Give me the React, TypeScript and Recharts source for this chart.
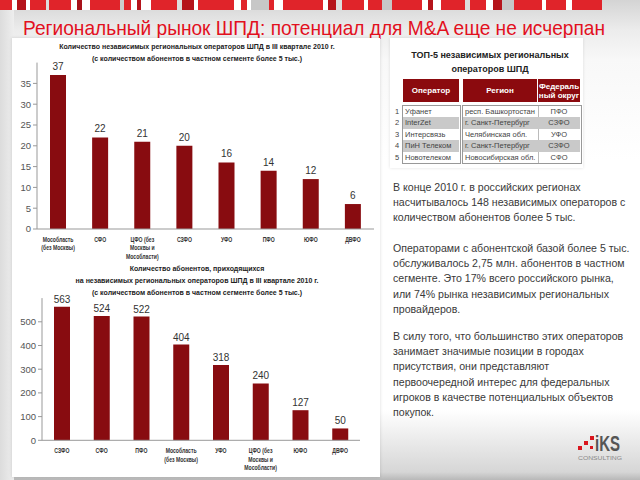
import { BarChart, Bar, XAxis, YAxis, LabelList } from 'recharts';

// top chart: operators per district
const topCategories = ['Мособласть\n(без Москвы)', 'СФО', 'ЦФО (без\nМосквы и\nМособласти)', 'СЗФО', 'УФО', 'ПФО', 'ЮФО', 'ДВФО'];
const topValues = [37, 22, 21, 20, 16, 14, 12, 6];
const topTicks = [0, 5, 10, 15, 20, 25, 30, 35];

// bottom chart: subscribers per district
const bottomCategories = ['СЗФО', 'СФО', 'ПФО', 'Мособласть\n(без Москвы)', 'УФО', 'ЦФО (без\nМосквы и\nМособласти)', 'ЮФО', 'ДВФО'];
const bottomValues = [563, 524, 522, 404, 318, 240, 127, 50];
const bottomTicks = [0, 100, 200, 300, 400, 500];

// top-5 table
const operators = ['Уфанет', 'InterZet', 'Интерсвязь', 'ПиН Телеком', 'Новотелеком'];
const regions = ['респ. Башкортостан', 'г. Санкт-Петербург', 'Челябинская обл.', 'г. Санкт-Петербург', 'Новосибирская обл.'];
const districts = ['ПФО', 'СЗФО', 'УФО', 'СЗФО', 'СФО'];

const paragraphs = [
  ['В конце 2010 г. в российских регионах', 'насчитывалось 148 независимых операторов с', 'количеством абонентов более 5 тыс.'],
  ['Операторами с абонентской базой более 5 тыс.', 'обслуживалось 2,75 млн. абонентов в частном', 'сегменте. Это 17% всего российского рынка,', 'или 74% рынка независимых региональных', 'провайдеров.'],
  ['В силу того, что большинство этих операторов', 'занимает значимые позиции в городах', 'присутствия, они представляют', 'первоочередной интерес для федеральных', 'игроков в качестве потенциальных объектов', 'покупок.'],
];

const stripe: [number, string][] = [
  [12, '#e0242a'], [5, '#fff'], [9, '#b5141b'], [4, '#fff'], [16, '#e0242a'], [3, '#ddd'], [22, '#e0242a'], [6, '#fff'],
  [5, '#a8121a'], [8, '#fff'], [30, '#e0242a'], [4, '#ccc'], [7, '#e0242a'], [6, '#fff'], [4, '#b5141b'], [10, '#fff'],
  [26, '#e0242a'], [5, '#ddd'], [12, '#b5141b'], [4, '#fff'], [36, '#e0242a'], [7, '#fff'], [6, '#e0242a'], [4, '#fff'],
  [18, '#c7c7c7'], [5, '#e0242a'], [9, '#fff'], [40, '#e0242a'], [5, '#fff'], [8, '#b5141b'], [6, '#ddd'], [22, '#e0242a'],
  [4, '#fff'], [14, '#e0242a'], [10, '#c7c7c7'], [30, '#e0242a'], [6, '#fff'], [5, '#b5141b'], [8, '#fff'], [24, '#e0242a'],
  [5, '#ddd'], [16, '#e0242a'], [7, '#fff'], [9, '#b5141b'], [12, '#c7c7c7'], [28, '#e0242a'], [4, '#fff'], [20, '#e0242a'],
  [6, '#fff'], [30, '#e0242a'],
];

const topData = topCategories.map((name, i) => ({ name, value: topValues[i] }));
const bottomData = bottomCategories.map((name, i) => ({ name, value: bottomValues[i] }));

const BAR = '#880c10';
const SANS = "'Liberation Sans', Arial, sans-serif";

function CategoryTick({ x, y, payload }: any) {
  const lines = String(payload.value).split('\n');
  return (
    <text transform={`translate(${x},${y + 5}) scale(0.8,1)`} textAnchor="middle" fontSize={6.4}
      fontWeight="bold" fill="#333" fontFamily={SANS}>
      {lines.map((l, i) => (
        <tspan key={i} x={0} dy={i === 0 ? 0 : 8.5}>{l}</tspan>
      ))}
    </text>
  );
}

const chartTitle: React.CSSProperties = {
  position: 'absolute', left: 12, width: 370, textAlign: 'center',
  fontFamily: SANS, fontSize: 7, fontWeight: 'bold', color: '#222', lineHeight: '12px', whiteSpace: 'nowrap',
};

export default function App() {
  return (
    <div style={{
      position: 'relative', width: 640, height: 480, overflow: 'hidden', fontFamily: SANS,
      background: 'linear-gradient(to bottom, #d4d4d4 0px, #ececec 30px, #f8f8f8 60px, #ffffff 160px, #ffffff 410px, #d6d6d6 472px, #b8b8b8 480px)',
    }}>
      <style>{'body{margin:0}'}</style>

      <div style={{ position: 'absolute', left: 0, top: 10, width: 14, height: 470, background: 'linear-gradient(to right, #dcdcdc, #eeeeee)' }} />

      {/* stripe band */}
      <div style={{ position: 'absolute', left: 0, top: 0, width: 640, height: 10, display: 'flex' }}>
        {stripe.map(([w, c], i) => (
          <div key={i} style={{ width: w, height: 10, background: c, flexShrink: 0 }} />
        ))}
      </div>

      <svg width={640} height={50} style={{ position: 'absolute', left: 0, top: 0 }}>
        <text transform="scale(1,1.12)" x={23} y={31.3} textLength={582} lengthAdjust="spacingAndGlyphs" fontSize={18.8} fill="#e2101e" fontFamily={SANS}>
          Региональный рынок ШПД: потенциал для M&amp;A еще не исчерпан
        </text>
      </svg>

      {/* left panel */}
      <div style={{ position: 'absolute', left: 12, top: 38, width: 368, height: 439, background: '#fff', boxShadow: '0 0 3px rgba(0,0,0,0.15)' }} />

      <div style={{ ...chartTitle, top: 41 }}>
        <div>Количество независимых региональных операторов ШПД в III квартале 2010 г.</div>
        <div>(с количеством абонентов в частном сегменте более 5 тыс.)</div>
      </div>

      <div style={{ position: 'absolute', left: 0, top: 40 }}>
        <BarChart width={380} height={230} data={topData} margin={{ top: 22.6, right: 6, left: 10, bottom: 6 }}>
          <XAxis dataKey="name" interval={0} height={35} tickLine={false} axisLine={{ stroke: '#999' }} tick={<CategoryTick />} />
          <YAxis width={27} domain={[0, 40]} ticks={topTicks} tickSize={4} tickMargin={2}
            axisLine={{ stroke: '#999' }} tickLine={{ stroke: '#999' }}
            tick={{ fontSize: 9.5, fill: '#555', fontFamily: SANS }} />
          <Bar dataKey="value" fill={BAR} barSize={16} isAnimationActive={false}>
            <LabelList dataKey="value" position="top" offset={5} fill="#333" fontSize={10} fontFamily={SANS} />
          </Bar>
        </BarChart>
      </div>

      <div style={{ ...chartTitle, top: 263 }}>
        <div>Количество абонентов, приходящихся</div>
        <div>на независимых региональных операторов ШПД в III квартале 2010 г.</div>
        <div>(с количеством абонентов в частном сегменте более 5 тыс.)</div>
      </div>

      <div style={{ position: 'absolute', left: 0, top: 270 }}>
        <BarChart width={380} height={205} data={bottomData} margin={{ top: 28.1, right: 20, left: 12, bottom: 4.7 }}>
          <XAxis dataKey="name" interval={0} height={30} tickLine={false} axisLine={{ stroke: '#999' }} tick={<CategoryTick />} />
          <YAxis width={30} domain={[0, 600]} ticks={bottomTicks} tickSize={4} tickMargin={2}
            axisLine={{ stroke: '#999' }} tickLine={{ stroke: '#999' }}
            tick={{ fontSize: 9.5, fill: '#555', fontFamily: SANS }} />
          <Bar dataKey="value" fill={BAR} barSize={16} isAnimationActive={false}>
            <LabelList dataKey="value" position="top" offset={4} fill="#333" fontSize={10} fontFamily={SANS} />
          </Bar>
        </BarChart>
      </div>

      {/* table panel */}
      <div style={{ position: 'absolute', left: 390, top: 38, width: 193, height: 130, background: '#fff', boxShadow: '0 0 3px rgba(0,0,0,0.12)' }} />
      <div style={{
        position: 'absolute', left: 390, top: 48, width: 200, textAlign: 'center',
        fontSize: 9, fontWeight: 'bold', color: '#222', lineHeight: '14px', whiteSpace: 'nowrap',
      }}>
        <div>ТОП-5 независимых региональных</div>
        <div>операторов ШПД</div>
      </div>
      {[
        { left: 403, width: 56, text: ['Оператор'] },
        { left: 463, width: 74, text: ['Регион'] },
        { left: 538, width: 42, text: ['Федераль', 'ный округ'] },
      ].map((h, i) => (
        <div key={i} style={{
          position: 'absolute', left: h.left, top: 79, width: h.width, height: 23, background: '#8b0a0e',
          color: '#fff', fontSize: 8, fontWeight: 'bold', display: 'flex', flexDirection: 'column',
          alignItems: 'center', justifyContent: 'center', lineHeight: '9px', whiteSpace: 'nowrap',
        }}>
          {h.text.map((t, j) => <div key={j}>{t}</div>)}
        </div>
      ))}
      <div style={{ position: 'absolute', left: 402, top: 105, width: 57, height: 57, border: '1px solid #999' }} />
      <div style={{ position: 'absolute', left: 462, top: 105, width: 118, height: 57, border: '1px solid #999' }} />
      {operators.map((op, i) => {
        const top = 106 + i * 11.4;
        const shade = i % 2 === 1 ? '#c9c9c9' : 'transparent';
        const cell: React.CSSProperties = { position: 'absolute', top, height: 11.4, lineHeight: '11.4px', fontSize: 7.5, color: '#444', whiteSpace: 'nowrap' };
        return (
          <div key={i}>
            <div style={{ ...cell, left: 393, width: 8, textAlign: 'center' }}>{i + 1}</div>
            <div style={{ ...cell, left: 403, width: 54, paddingLeft: 2, background: shade }}>{op}</div>
            <div style={{ ...cell, left: 463, width: 73, paddingLeft: 2, background: shade, borderRight: '1px solid #bbb' }}>{regions[i]}</div>
            <div style={{ ...cell, left: 538, width: 42, textAlign: 'center', background: shade }}>{districts[i]}</div>
          </div>
        );
      })}

      {/* commentary */}
      {paragraphs.map((p, pi) => (
        <div key={pi} style={{
          position: 'absolute', left: 393, top: [180, 241, 329][pi], fontSize: 10.6,
          lineHeight: '15.2px', color: '#3a3a3a', whiteSpace: 'nowrap',
        }}>
          {p.map((l, li) => <div key={li}>{l}</div>)}
        </div>
      ))}

      {/* logo */}
      <div style={{ position: 'absolute', left: 590, top: 436, width: 4, height: 4, background: '#d9161e' }} />
      <div style={{ position: 'absolute', left: 584, top: 441, width: 4, height: 4, background: '#d9161e' }} />
      <div style={{ position: 'absolute', left: 578, top: 446, width: 4, height: 4, background: '#d9161e' }} />
      <div style={{ position: 'absolute', left: 590, top: 446, width: 3, height: 3, background: '#d9161e' }} />
      <svg width={60} height={40} style={{ position: 'absolute', left: 575, top: 428 }}>
        <text x={20} y={23} textLength={25} lengthAdjust="spacingAndGlyphs" fontSize={22} fontWeight="bold" fill="#555" fontFamily={SANS}>iKS</text>
        <text x={3} y={32} textLength={44} lengthAdjust="spacingAndGlyphs" fontSize={6} fill="#888" fontFamily={SANS}>CONSULTING</text>
      </svg>
    </div>
  );
}
